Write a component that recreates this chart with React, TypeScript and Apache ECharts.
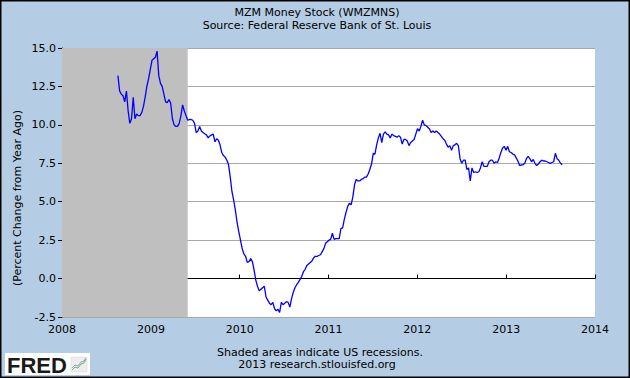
import React, { useEffect, useRef } from "react";
import * as echarts from "echarts";

// Weekly observations start on this Monday (year, monthIndex, day)
const firstWeek = [2008, 7, 18];

// MZM Money Stock, percent change from year ago, weekly values
const mzmPctChange: number[] = [
  // 2008 H2
  13.2, 12.2, 12.0, 11.9, 11.5, 12.2, 10.9, 10.1, 10.4, 11.8, 10.4, 10.7, 10.6, 10.6, 10.8, 11.2, 11.8, 12.5, 13.0, 13.6,
  // 2009
  14.2, 14.3, 14.4, 14.8, 13.2, 12.7, 12.5, 12.0, 11.5, 11.45, 11.65, 11.4, 10.4, 10.0, 9.9, 9.9, 10.1, 10.6, 11.3, 10.9,
  10.6, 10.3, 10.35, 10.35, 10.3, 10.1, 9.5, 9.6, 9.9, 9.6, 9.5, 9.42, 9.35, 9.15, 9.28, 9.35, 9.4, 8.9, 9.1, 9.0,
  8.7, 8.2, 8.0, 7.9, 7.7, 7.4, 6.6, 5.65, 5.1, 4.45, 3.65, 3.05,
  // 2010
  2.5, 1.95, 1.6, 1.45, 1.05, 1.1, 1.3, 1.1, 0.55, -0.1, -0.5, -0.8, -0.7, -0.6, -0.5, -1.2, -1.4, -1.6, -1.7, -1.55,
  -1.95, -2.1, -2.0, -2.2, -1.55, -1.7, -1.6, -1.5, -1.55, -1.85, -1.3, -0.9, -0.6, -0.4, -0.25, -0.05, 0.15, 0.45, 0.6, 0.85,
  0.95, 1.05, 1.15, 1.35, 1.45, 1.45, 1.5, 1.55, 1.75, 1.95, 2.3, 2.4,
  // 2011
  2.5, 2.55, 2.95, 2.55, 2.6, 2.6, 2.6, 3.25, 3.3, 3.85, 4.3, 4.7, 4.9, 4.8, 5.3, 6.1, 6.45, 6.35, 6.35, 6.45,
  6.5, 6.6, 6.6, 6.8, 7.1, 7.45, 8.15, 8.1, 8.7, 9.15, 9.45, 8.85, 9.4, 9.55, 9.4, 9.35, 9.15, 9.4, 9.3, 9.25,
  9.2, 9.3, 9.2, 8.75, 9.05, 9.05, 8.95, 8.65, 8.85, 8.95, 9.05, 9.4,
  // 2012
  9.75, 9.6, 9.9, 10.3, 10.0, 9.95, 9.85, 9.75, 9.5, 9.6, 9.5, 9.6, 9.5, 9.4, 9.25, 9.1, 9.0, 8.75, 8.55, 8.65,
  8.35, 8.65, 8.7, 8.8, 8.65, 7.8, 7.5, 7.7, 7.7, 7.1, 7.2, 6.35, 7.2, 6.9, 6.95, 6.9, 6.95, 7.2, 7.6, 7.3,
  7.3, 7.3, 7.6, 7.7, 7.7, 7.5, 7.6, 7.55, 7.85, 8.2, 8.5, 8.6,
  // 2013
  8.35, 8.6, 8.25, 8.2, 8.1, 8.05, 7.85, 7.65, 7.35, 7.4, 7.4, 7.5, 7.8, 7.95, 7.8, 7.6, 7.75, 7.5, 7.35, 7.45,
  7.6, 7.7, 7.65, 7.65, 7.6, 7.55, 7.5, 7.55, 7.6, 8.15, 7.8, 7.7, 7.5, 7.4,
];

const recessionStart = "2008-01-01";
const recessionEnd = "2009-06-01";

const xMin = "2008-01-01";
const xMax = "2014-01-01";
const yMin = -2.5;
const yMax = 15;
const yStep = 2.5;

const titleLines = ["MZM Money Stock (WMZMNS)", "Source: Federal Reserve Bank of St. Louis"];
const yAxisTitle = "(Percent Change from Year Ago)";
const footerLines = ["Shaded areas indicate US recessions.", "2013 research.stlouisfed.org"];

const FONT = "DejaVu Sans";

export default function App() {
  const ref = useRef<HTMLDivElement>(null);

  useEffect(() => {
    if (!ref.current) return;
    const chart = echarts.init(ref.current, null, { renderer: "svg" });

    const seriesData = mzmPctChange.map((v, i) => [
      new Date(firstWeek[0], firstWeek[1], firstWeek[2] + 7 * i).getTime(),
      v,
    ]);

    const option: any = {
      animation: false,
      backgroundColor: "#b4cde4",
      textStyle: { fontFamily: FONT },
      grid: {
        left: 62,
        top: 48,
        width: 533,
        height: 269,
        show: true,
        backgroundColor: "#ffffff",
        borderWidth: 0,
      },
      xAxis: {
        type: "time",
        min: xMin,
        max: xMax,
        splitNumber: 6,
        minInterval: 365 * 24 * 3600 * 1000,
        maxInterval: 366 * 24 * 3600 * 1000,
        axisLine: { show: true, lineStyle: { color: "#000", width: 1 } },
        axisTick: { show: true, inside: true, length: 4, lineStyle: { color: "#000" } },
        splitLine: { show: false },
        axisLabel: {
          formatter: "{yyyy}",
          color: "#000",
          fontFamily: FONT,
          fontSize: 11,
          margin: 7,
          showMinLabel: true,
          showMaxLabel: true,
        },
      },
      yAxis: {
        type: "value",
        min: yMin,
        max: yMax,
        interval: yStep,
        axisLine: { show: true, lineStyle: { color: "#000", width: 1 } },
        axisTick: { show: true, inside: false, length: 4, lineStyle: { color: "#000" } },
        splitLine: { show: true, lineStyle: { color: "#a8a8a8", width: 1 } },
        axisLabel: {
          formatter: (v: number) => v.toFixed(1),
          color: "#000",
          fontFamily: FONT,
          fontSize: 11,
          margin: 6,
        },
      },
      series: [
        {
          type: "line",
          data: seriesData,
          showSymbol: false,
          symbol: "none",
          lineStyle: { color: "#0000ff", width: 1.3 },
          z: 5,
          markArea: {
            silent: true,
            itemStyle: { color: "#bfbfbf" },
            data: [[{ xAxis: recessionStart }, { xAxis: recessionEnd }]],
          },
        },
      ],
      graphic: [
        {
          type: "text",
          x: 317,
          y: 12,
          style: {
            text: titleLines[0],
            textAlign: "center",
            textVerticalAlign: "middle",
            font: `11px "${FONT}"`,
            fill: "#000",
          },
        },
        {
          type: "text",
          x: 317,
          y: 25,
          style: {
            text: titleLines[1],
            textAlign: "center",
            textVerticalAlign: "middle",
            font: `11px "${FONT}"`,
            fill: "#000",
          },
        },
        {
          type: "text",
          x: 17,
          y: 198,
          rotation: Math.PI / 2,
          style: {
            text: yAxisTitle,
            textAlign: "center",
            textVerticalAlign: "middle",
            font: `11px "${FONT}"`,
            fill: "#000",
          },
        },
        {
          type: "text",
          x: 320,
          y: 352,
          style: {
            text: footerLines[0],
            textAlign: "center",
            textVerticalAlign: "middle",
            font: `11px "${FONT}"`,
            fill: "#000",
          },
        },
        {
          type: "text",
          x: 317,
          y: 364.5,
          style: {
            text: footerLines[1],
            textAlign: "center",
            textVerticalAlign: "middle",
            font: `11px "${FONT}"`,
            fill: "#000",
          },
        },
        // FRED logo
        {
          type: "rect",
          shape: { x: 5, y: 353, width: 85, height: 22 },
          style: { fill: "#ffffff" },
        },
        {
          type: "text",
          x: 7,
          y: 365,
          style: {
            text: "FRED",
            textVerticalAlign: "middle",
            font: `bold 22px "Liberation Sans"`,
            fill: "#1a1a1a",
          },
        },
        {
          type: "rect",
          shape: { x: 71, y: 357, width: 16, height: 15 },
          style: { fill: "#eeeeee", stroke: "#d0d0d0", lineWidth: 0.5 },
        },
        {
          type: "polyline",
          shape: { points: [[72, 370], [75, 367], [78, 368], [81, 364], [84, 363], [86, 359]] },
          style: { stroke: "#7bb661", lineWidth: 1, fill: "none" },
        },
        {
          type: "polyline",
          shape: { points: [[72, 368], [75, 365], [78, 366], [81, 362], [84, 361], [86, 358]] },
          style: { stroke: "#6b8fc9", lineWidth: 0.8, fill: "none" },
        },
        // outer border
        {
          type: "rect",
          shape: { x: 0.75, y: 0.75, width: 628.5, height: 376.5 },
          style: { fill: "none", stroke: "#000", lineWidth: 1.5 },
          z: 100,
        },
      ],
    };

    chart.setOption(option);
    return () => chart.dispose();
  }, []);

  return (
    <div
      ref={ref}
      style={{ position: "absolute", left: 0, top: 0, width: 630, height: 378 }}
    />
  );
}
